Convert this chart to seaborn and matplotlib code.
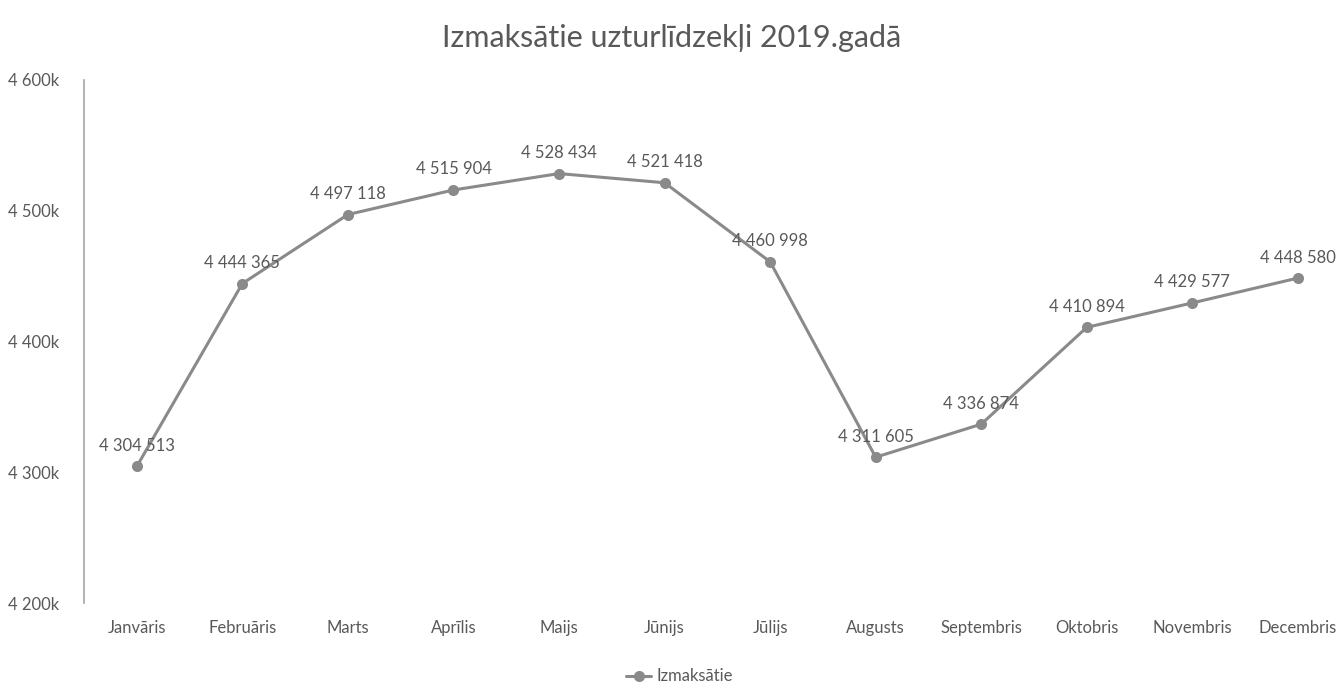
"""Izmaksātie uzturlīdzekļi 2019 - line chart"""
import numpy as np
import pandas as pd
import matplotlib
matplotlib.use('Agg')
import matplotlib.pyplot as plt
import seaborn as sns

months = ['Janvāris', 'Februāris', 'Marts', 'Aprīlis', 'Maijs', 'Jūnijs',
          'Jūlijs', 'Augusts', 'Septembris', 'Oktobris', 'Novembris', 'Decembris']
paid = [4304513, 4444365, 4497118, 4515904, 4528434, 4521418,
        4460998, 4311605, 4336874, 4410894, 4429577, 4448580]
series_name = 'Izmaksātie'
y_ticks = [4200000, 4300000, 4400000, 4500000, 4600000]

df = pd.DataFrame({'month': months, 'value': paid, 'series': series_name})
df['pos'] = np.arange(len(months))

sns.set_style('white')
plt.rcParams['font.family'] = ['Lato', 'DejaVu Sans']
text_col = '#595959'
line_col = '#8a8a8a'

fig = plt.figure(figsize=(13.44, 6.87), dpi=100)
ax = fig.add_axes([0.0625, 0.122, 0.9425, 0.7616])

sns.lineplot(data=df, x='pos', y='value', hue='series', palette=[line_col],
             marker='o', markersize=8, markeredgewidth=0, linewidth=2.2, ax=ax)

def fmt(v):
    return f'{v:,}'.replace(',', ' ')

for x, v in zip(df['pos'], df['value']):
    ax.annotate(fmt(v), (x, v), xytext=(0, 9), textcoords='offset points',
                ha='center', va='bottom', fontsize=12, color=text_col)

ax.set_xlim(-0.5, len(months) - 0.5)
ax.set_ylim(y_ticks[0], y_ticks[-1])
ax.set_xticks(df['pos'])
ax.set_xticklabels(months)
ax.set_yticks(y_ticks)
ax.set_yticklabels([f'{t // 1000:,}k'.replace(',', ' ') for t in y_ticks])
ax.tick_params(axis='both', colors=text_col, labelsize=12, length=0)
ax.tick_params(axis='x', pad=12)
ax.tick_params(axis='y', pad=18)
ax.set_xlabel('')
ax.set_ylabel('')
for s in ['top', 'right', 'bottom']:
    ax.spines[s].set_visible(False)
ax.spines['left'].set_color('#a6a6a6')
ax.spines['left'].set_linewidth(1.2)

fig.suptitle('Izmaksātie uzturlīdzekļi 2019.gadā', y=0.965, fontsize=22, color=text_col)

handles, labels = ax.get_legend_handles_labels()
ax.legend(handles, labels, loc='center', bbox_to_anchor=(0.47, -0.14),
          frameon=False, fontsize=12, labelcolor=text_col, handlelength=1.5,
          handletextpad=0.3, borderpad=0.2)

fig.savefig('out.png', dpi=100)
